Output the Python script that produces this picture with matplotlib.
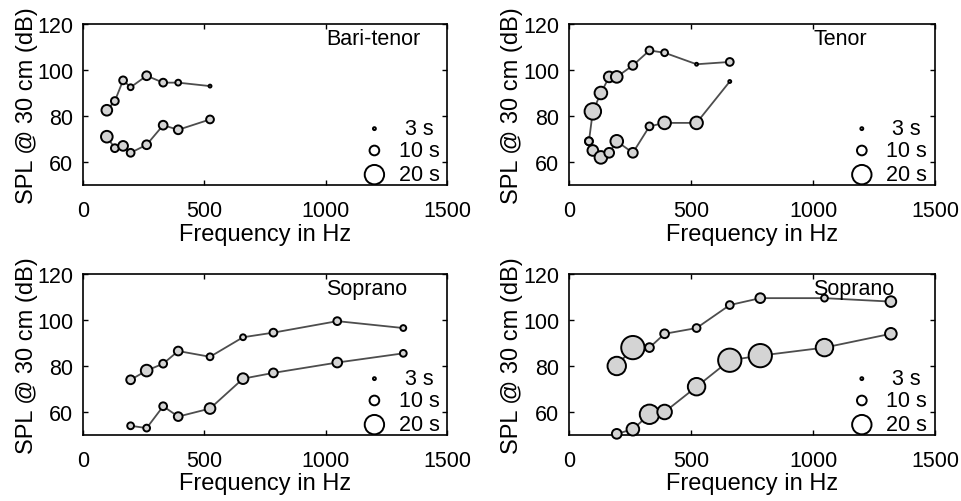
import numpy as np
import matplotlib
matplotlib.use("Agg")
import matplotlib.pyplot as plt

plt.rcParams['font.family'] = ['Liberation Sans', 'DejaVu Sans']

# pitch frequencies (Hz), SPL @ 30 cm (dB), and sustain durations (s)
bt_freq = [98, 131, 165, 196, 262, 330, 392, 523]
bt_spl_max = [82.5, 86.5, 95.5, 92.5, 97.5, 94.5, 94.5, 93]
bt_dur_max = [11, 8, 8, 6, 9, 8, 6, 3]
bt_spl_min = [71, 66, 67, 64, 67.5, 76, 74, 78.5]
bt_dur_min = [12, 8, 10, 8, 9, 9, 9, 8]

ten_freq = [82, 98, 131, 165, 196, 262, 330, 392, 523, 659]
ten_spl_max = [69, 82, 90, 97, 97, 102, 108.5, 107.5, 102.5, 103.5]
ten_dur_max = [8, 17, 13, 11, 12, 9, 8, 7, 3, 8]
ten_spl_min = [69, 65, 62, 64, 69, 64, 75.5, 77, 77, 95]
ten_dur_min = [8, 11, 13, 10, 13, 10, 8, 13, 13, 3]

sop_freq = [196, 262, 330, 392, 523, 659, 784, 1047, 1319]
sop1_spl_max = [74, 78, 81, 86.5, 84, 92.5, 94.5, 99.5, 96.5]
sop1_dur_max = [9, 12, 8, 9, 7, 6, 8, 8, 6]
sop1_spl_min = [54, 53, 62.5, 58, 61.5, 74.5, 77, 81.5, 85.5]
sop1_dur_min = [7, 7, 8, 9, 11, 11, 9, 10, 7]

sop2_spl_max = [80, 88, 88, 94, 96.5, 106.5, 109.5, 109.5, 108]
sop2_dur_max = [19, 24, 9, 9, 8, 8, 10, 7, 11]
sop2_spl_min = [50.5, 52.5, 59, 60, 71, 82.5, 84.5, 88, 94]
sop2_dur_min = [10, 13, 20, 15, 18, 24, 24, 18, 12]

legend_dur = [3, 10, 20]
legend_spl = [74.5, 65, 54.5]
legend_txt = ["3 s", "10 s", "20 s"]

panels = [
    ("Bari-tenor", bt_freq, bt_spl_max, bt_dur_max, bt_spl_min, bt_dur_min),
    ("Tenor", ten_freq, ten_spl_max, ten_dur_max, ten_spl_min, ten_dur_min),
    ("Soprano", sop_freq, sop1_spl_max, sop1_dur_max, sop1_spl_min, sop1_dur_min),
    ("Soprano", sop_freq, sop2_spl_max, sop2_dur_max, sop2_spl_min, sop2_dur_min),
]

# axes boxes in figure fraction (left, bottom, width, height)
boxes = [
    (0.0864, 0.6295, 0.379, 0.3207),
    (0.592, 0.6295, 0.381, 0.3207),
    (0.0864, 0.1315, 0.379, 0.3207),
    (0.592, 0.1315, 0.381, 0.3207),
]


def msize(dur):
    # marker diameter in pixels ~ duration in s; convert to points^2
    d = np.asarray(dur, dtype=float) * 0.72 * 0.97
    return d ** 2


fig = plt.figure(figsize=(9.61, 5.02), dpi=100)

for (name, f, smax, dmax, smin, dmin), box in zip(panels, boxes):
    ax = fig.add_axes(box)
    for spl, dur in ((smax, dmax), (smin, dmin)):
        ax.plot(f, spl, color="0.3", lw=1.3, zorder=2)
        ax.scatter(f, spl, s=msize(dur), facecolor="#d4d4d4", edgecolor="black",
                   linewidths=1.4, zorder=3, clip_on=False)
    ax.scatter([1200] * 3, legend_spl, s=msize(legend_dur), facecolor="white",
               edgecolor="black", linewidths=1.4, zorder=3)
    for y, t in zip(legend_spl, legend_txt):
        x = 1325 if t == "3 s" else 1300
        ax.text(x, y, t, fontsize=15.5, va="center", ha="left", zorder=4)
    ax.text(1000, 113.5, name, fontsize=15.5, va="center", ha="left", zorder=4)

    ax.set_xlim(0, 1500)
    ax.set_ylim(50, 120)
    ax.set_xticks([0, 500, 1000, 1500])
    ax.set_yticks([60, 80, 100, 120])
    ax.tick_params(direction="in", top=True, right=True, length=3.5, width=1,
                   labelsize=15.5)
    ax.tick_params(axis="x", pad=10.5)
    ax.tick_params(axis="y", pad=7)
    for sp in ax.spines.values():
        sp.set_linewidth(1.2)
    ax.set_xlabel("Frequency in Hz", fontsize=17)
    ax.set_ylabel("SPL @ 30 cm (dB)", fontsize=17)
    ax.xaxis.set_label_coords(0.5, -0.233)
    ax.yaxis.set_label_coords(-0.125, 0.5)

fig.savefig("out.png", dpi=100)
